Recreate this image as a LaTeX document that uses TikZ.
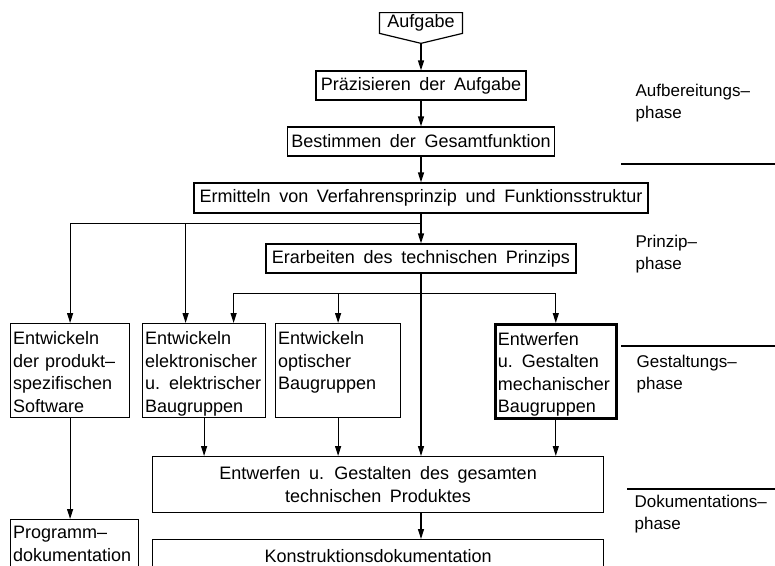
\documentclass[tikz,border=0pt]{standalone}
\usepackage{fontspec}
\setmainfont{Liberation Sans}
\usepackage{tikz}
\usetikzlibrary{positioning,arrows.meta,shapes.symbols}

\newcommand{\boxfont}{\fontsize{18}{22.5}\selectfont\spaceskip=.48em plus .1em minus .05em\relax}
\newcommand{\phasefont}{\fontsize{17}{22}\selectfont}

\begin{document}
\begin{tikzpicture}[
	x=1pt, y=-1pt,
	every node/.style={font=\boxfont, line width=1.2pt},
	box/.style={draw, rectangle, inner sep=2pt, minimum height=29pt},
	stack/.style={draw, rectangle, anchor=north west, align=left, inner xsep=2.5pt, inner ysep=1pt, text height=20pt, text depth=72pt},
	heavy/.style={line width=2.6pt},
	arr/.style={line width=1.2pt, -{Triangle[length=10pt,width=6pt]}},
	rule/.style={line width=1.2pt},
	phase/.style={font=\phasefont, anchor=base west, align=left, text width=140pt, inner sep=0pt}
	]
	\useasboundingbox (0,0) rectangle (775,565);

	% main chain
	\node[draw, signal, signal to=south, signal pointer angle=153, inner xsep=8pt, inner ysep=2pt, anchor=north] (auf) at (421,12) {Aufgabe};
	\node[box, minimum width=210pt] (prae) at (421,85.5) {Präzisieren der Aufgabe};
	\node[box, minimum width=267pt] (best) at (421,141.5) {Bestimmen der Gesamtfunktion};
	\node[box, minimum width=454pt, minimum height=30pt] (ermi) at (421,198) {Ermitteln von Verfahrensprinzip und Funktionsstruktur};
	\node[box, minimum width=310pt] (erar) at (421,258.5) {Erarbeiten des technischen Prinzips};

	% groups
	\node[stack, text width=114pt] (soft) at (10,323) {Entwickeln\\der produkt–\\spezifischen\\Software};
	\node[stack, text width=118pt] (elek) at (142,323) {Entwickeln\\elektronischer\\u. elektrischer\\Baugruppen};
	\node[stack, text width=120pt] (opti) at (275,323) {Entwickeln\\optischer\\Baugruppen};
	\node[stack, heavy, text width=116pt] (mech) at (494,323) {Entwerfen\\u. Gestalten\\mechanischer\\Baugruppen};

	\node[box, anchor=north west, minimum width=451pt, minimum height=56pt, align=center] (entw) at (152,456) {Entwerfen u. Gestalten des gesamten\\technischen Produktes};
	\node[stack, text width=123pt, text height=18pt, text depth=40pt] (prog) at (10,519) {Programm–\\dokumentation};
	\node[box, anchor=north west, minimum width=451pt, minimum height=32pt] (kons) at (152,539) {Konstruktionsdokumentation};

	% phases
	\node[phase] (ph1) at (635,96) {Aufbereitungs–\\phase};
	\node[phase] (ph2) at (635,247) {Prinzip–\\phase};
	\node[phase] (ph3) at (636,367) {Gestaltungs–\\phase};
	\node[phase] (ph4) at (634,507) {Dokumentations–\\phase};
	\draw[rule] (621,164) -- ++(154,0);
	\draw[rule] (621,346) -- ++(154,0);
	\draw[rule] (627,489) -- ++(148,0);

	\coordinate (f1) at ([yshift=-10pt]ermi.south);
	\coordinate (f2) at ([yshift=-20pt]erar.south);

	\draw[arr] (auf.south) -- (prae.north);
	\draw[arr] (prae.south) -- (best.north);
	\draw[arr] (best.south) -- (ermi.north);
	\draw[arr] (ermi.south) -- (erar.north);
	\draw[arr] (f1) -| (soft.north);
	\draw[arr] (f1) -| ([xshift=-18.5pt]elek.north);
	\draw[arr] (f2) -| ([xshift=29.5pt]elek.north);
	\draw[arr] (f2) -| (opti.north);
	\draw[arr] (f2) -| (mech.north);
	\draw[arr] (erar.south) -- (erar.south |- entw.north);
	\draw[arr] (elek.south) -- (elek.south |- entw.north);
	\draw[arr] (opti.south) -- (opti.south |- entw.north);
	\draw[arr] (mech.south) -- (mech.south |- entw.north);
	\draw[arr] (soft.south) -- (soft.south |- prog.north);
	\draw[arr] (erar.south |- entw.south) -- (erar.south |- kons.north);
\end{tikzpicture}
\end{document}
